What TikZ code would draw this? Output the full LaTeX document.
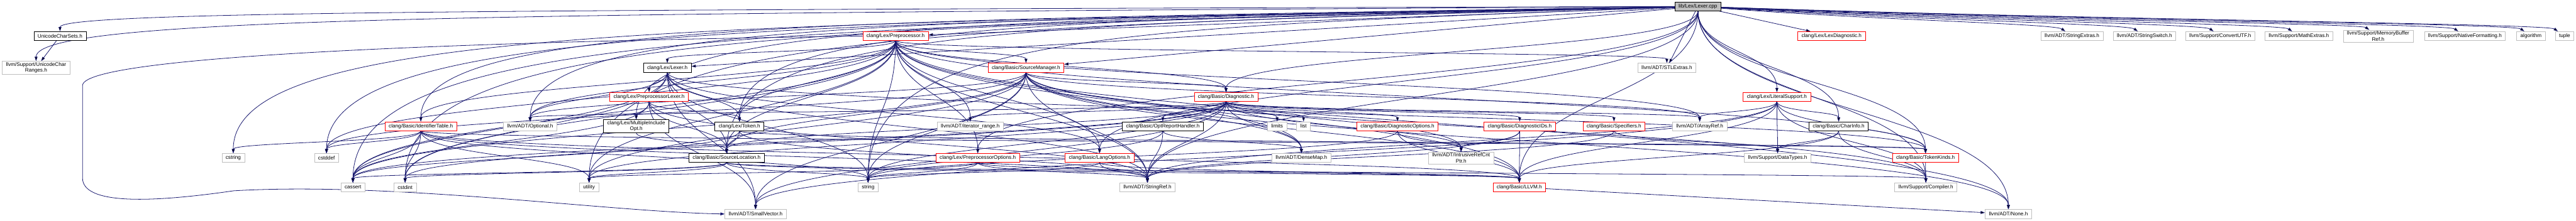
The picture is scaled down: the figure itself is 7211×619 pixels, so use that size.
\documentclass[tikz,border=0pt]{standalone}
\usepackage{fontspec}
\setmainfont{Liberation Sans}
\usetikzlibrary{arrows.meta,calc}
\definecolor{dxedge}{HTML}{191970}
\definecolor{dxgray}{HTML}{BFBFBF}
\definecolor{dxred}{HTML}{FF0000}
\newcommand{\dxfont}{\fontsize{7.2}{8.4}\selectfont}
\pgfdeclarelayer{edgelayer}
\pgfdeclarelayer{paper}
\pgfsetlayers{paper,edgelayer,main}

\begin{document}
\begin{tikzpicture}[x=0.5pt, y=0.5pt, every node/.style={font=\dxfont},
  hdr/.style={rectangle, draw, fill=white, line width=0.6pt, minimum height=12.5pt,
    inner xsep=5.3pt, inner ysep=1.5pt, align=center},
  sysfile/.style={hdr, draw=dxgray},
  cutfile/.style={hdr, draw=dxred},
  docfile/.style={hdr, draw=black},
  rootfile/.style={hdr, draw=black, fill=dxgray},
  dep/.style={draw=dxedge, line width=0.7pt, -{Triangle[length=6pt,width=4pt]}},
  fall/.style={to path={.. controls ($(\tikztostart)!0.5!(\tikztostart |- \tikztotarget)$)
    and ($(\tikztotarget)!0.5!(\tikztotarget |- \tikztostart)$) .. (\tikztotarget) \tikztonodes}},
  sweep/.style={to path={.. controls ($(\tikztostart)!0.7!(\tikztotarget |- \tikztostart)
      + 0.12*(\tikztotarget) - 0.12*(\tikztotarget |- \tikztostart)$)
    and ($(\tikztotarget)!0.85!(\tikztotarget |- \tikztostart)$) .. (\tikztotarget) \tikztonodes}},
  glide/.style={to path={.. controls ($(\tikztostart)!0.45!(\tikztotarget)$)
    and ($(\tikztotarget)+(-50,35)$) .. (\tikztotarget) \tikztonodes}}]

  % ---- Background ----
  \begin{pgfonlayer}{paper}
    \fill[white] (0,0) rectangle (7211,619);
  \end{pgfonlayer}
  \useasboundingbox (0,0) rectangle (7211,619);

  % ============ FILES (one row per level) ============

  % ---- Root ----
  \node[rootfile] (lexcpp) at (4753,601) {lib/Lex/Lexer.cpp};

  % ---- Level 1 ----
  \node[docfile] (unisets)   at (168,518)  {UnicodeCharSets.h};
  \node[cutfile] (pp)        at (2507,518) {clang/Lex/Preprocessor.h};
  \node[cutfile] (lexdiag)   at (5127,518) {clang/Lex/LexDiagnostic.h};
  \node[sysfile] (strext)    at (5800,518) {llvm/ADT/StringExtras.h};
  \node[sysfile] (strswitch) at (6003,518) {llvm/ADT/StringSwitch.h};
  \node[sysfile] (convutf)   at (6215,518) {llvm/Support/ConvertUTF.h};
  \node[sysfile] (mathext)   at (6435,518) {llvm/Support/MathExtras.h};
  \node[sysfile] (membuf)    at (6657,518) {llvm/Support/MemoryBuffer\\Ref.h};
  \node[sysfile] (natfmt)    at (6900,518) {llvm/Support/NativeFormatting.h};
  \node[sysfile] (algorithm) at (7085,518) {algorithm};
  \node[sysfile] (tuple)     at (7179,518) {tuple};

  % ---- Level 2 ----
  \node[sysfile] (uniranges) at (101,429)  {llvm/Support/UnicodeChar\\Ranges.h};
  \node[docfile] (lexh)      at (1868,429) {clang/Lex/Lexer.h};
  \node[cutfile] (srcmgr)    at (2872,429) {clang/Basic/SourceManager.h};
  \node[sysfile] (stlextras) at (4666,429) {llvm/ADT/STLExtras.h};

  % ---- Level 3 ----
  \node[cutfile] (pplexer)   at (1817,347) {clang/Lex/PreprocessorLexer.h};
  \node[cutfile] (diag)      at (3432,347) {clang/Basic/Diagnostic.h};
  \node[cutfile] (litsupp)   at (4974,347) {clang/Lex/LiteralSupport.h};

  % ---- Level 4 ----
  \node[cutfile] (idtable)    at (1178,265) {clang/Basic/IdentifierTable.h};
  \node[sysfile] (optional)   at (1484,265) {llvm/ADT/Optional.h};
  \node[docfile] (mio)        at (1781,265) {clang/Lex/MultipleInclude\\Opt.h};
  \node[docfile] (token)      at (2070,265) {clang/Lex/Token.h};
  \node[sysfile] (itrange)    at (2716,265) {llvm/ADT/iterator\_range.h};
  \node[docfile] (optrep)     at (3255,265) {clang/Basic/OptReportHandler.h};
  \node[sysfile] (limits)     at (3575,265) {limits};
  \node[sysfile] (list)       at (3649,265) {list};
  \node[cutfile] (diagopts)   at (3912,265) {clang/Basic/DiagnosticOptions.h};
  \node[cutfile] (diagids)    at (4254,265) {clang/Basic/DiagnosticIDs.h};
  \node[cutfile] (specifiers) at (4518,265) {clang/Basic/Specifiers.h};
  \node[sysfile] (arrayref)   at (4758,265) {llvm/ADT/ArrayRef.h};
  \node[docfile] (charinfo)   at (5147,265) {clang/Basic/CharInfo.h};

  % ---- Level 5 ----
  \node[sysfile] (cstring)   at (653,176)  {cstring};
  \node[sysfile] (cstddef)   at (914,176)  {cstddef};
  \node[docfile] (srcloc)    at (2034,176) {clang/Basic/SourceLocation.h};
  \node[cutfile] (ppopts)    at (2737,176) {clang/Lex/PreprocessorOptions.h};
  \node[cutfile] (langopts)  at (3078,176) {clang/Basic/LangOptions.h};
  \node[sysfile] (densemap)  at (3643,176) {llvm/ADT/DenseMap.h};
  \node[sysfile] (irc)       at (4090,176) {llvm/ADT/IntrusiveRefCnt\\Ptr.h};
  \node[sysfile] (datatypes) at (4976,176) {llvm/Support/DataTypes.h};
  \node[cutfile] (tokkinds)  at (5390,176) {clang/Basic/TokenKinds.h};

  % ---- Level 6 ----
  \node[sysfile] (cassert)  at (988,94)  {cassert};
  \node[sysfile] (cstdint)  at (1134,94) {cstdint};
  \node[sysfile] (utility)  at (1649,94) {utility};
  \node[sysfile] (string)   at (2430,94) {string};
  \node[sysfile] (strref)   at (3212,94) {llvm/ADT/StringRef.h};
  \node[cutfile] (llvmh)    at (4253,94) {clang/Basic/LLVM.h};
  \node[sysfile] (compiler) at (5391,94) {llvm/Support/Compiler.h};

  % ---- Level 7 ----
  \node[sysfile] (smallvec) at (2115,19) {llvm/ADT/SmallVector.h};
  \node[sysfile] (none)     at (5622,19) {llvm/ADT/None.h};

  % ============ INCLUDE EDGES ============
  \begin{pgfonlayer}{edgelayer}

  % Lexer.cpp: direct includes
  \path[dep] (lexcpp) edge (lexh) edge (pp) edge (srcmgr) edge (stlextras) edge (lexdiag);
  \path[dep] (lexcpp) edge[fall] (diag) edge[fall] (langopts) edge[fall] (ppopts)
    edge[fall] (strref) edge[fall] (llvmh) edge[fall] (charinfo) edge[fall] (tokkinds)
    edge[fall] (compiler) edge[fall] (none) edge[fall] (litsupp);
  \path[dep] (lexcpp) edge[sweep] (unisets) edge[sweep] (uniranges) edge[sweep] (idtable)
    edge[sweep] (mio) edge[sweep] (token) edge[sweep] (optional) edge[sweep] (srcloc)
    edge[sweep] (cassert) edge[sweep] (cstddef) edge[sweep] (cstdint) edge[sweep] (cstring)
    edge[sweep] (string) edge[sweep] (utility);
  \path[dep] (lexcpp) edge[glide] (strext) edge[glide] (strswitch) edge[glide] (convutf)
    edge[glide] (mathext) edge[glide] (membuf) edge[glide] (natfmt)
    edge[glide] (algorithm) edge[glide] (tuple);

  % UnicodeCharSets.h
  \path[dep] (unisets) edge (uniranges);

  % Lexer.h and its lexer headers
  \path[dep] (lexh) edge[fall] (pplexer) edge[fall] (token) edge[fall] (srcloc)
    edge[fall] (optional) edge[fall] (smallvec) edge[fall] (strref) edge[fall] (cassert)
    edge[fall] (cstdint) edge[fall] (string) edge[fall] (langopts) edge[fall] (tokkinds);
  \path[dep] (pplexer) edge[fall] (mio) edge[fall] (token) edge[fall] (srcloc)
    edge[fall] (smallvec) edge[fall] (strref) edge[fall] (cassert);
  \path[dep] (mio) edge[fall] (srcloc);
  \path[dep] (token) edge[fall] (srcloc) edge[fall] (tokkinds) edge[fall] (strref)
    edge[fall] (cassert);
  \path[dep] (srcloc) edge[fall] (llvmh) edge[fall] (compiler) edge[fall] (cassert)
    edge[fall] (cstdint) edge[fall] (string) edge[fall] (utility);
  \path[dep] (idtable) edge[fall] (cstring) edge[fall] (cstddef) edge[fall] (cassert)
    edge[fall] (cstdint) edge[fall] (utility) edge[fall] (string) edge[fall] (strref)
    edge[fall] (llvmh) edge[fall] (tokkinds);

  % Preprocessor.h
  \path[dep] (pp) edge[fall] (srcmgr) edge[fall] (diag) edge[fall] (idtable)
    edge[fall] (lexh) edge[fall] (token) edge[fall] (srcloc) edge[fall] (langopts)
    edge[fall] (ppopts) edge[fall] (itrange) edge[fall] (optional) edge[fall] (arrayref)
    edge[fall] (densemap) edge[fall] (stlextras) edge[fall] (strref) edge[fall] (llvmh)
    edge[fall] (tokkinds) edge[fall] (none) edge[fall] (cassert) edge[fall] (cstddef)
    edge[fall] (cstdint) edge[fall] (string) edge[fall] (utility);
  \draw[dep] (pp.west) .. controls (1500,505) and (240,470) .. (231,380)
    -- (231,120) .. controls (231,45) and (420,50) .. (654,84)
    .. controls (1100,110) and (1700,25) .. (smallvec.west);

  % SourceManager.h and Diagnostic.h
  \path[dep] (srcmgr) edge[fall] (diag) edge[fall] (srcloc) edge[fall] (llvmh)
    edge[fall] (strref) edge[fall] (arrayref) edge[fall] (densemap) edge[fall] (irc)
    edge[fall] (none) edge[fall] (optional) edge[fall] (smallvec) edge[fall] (compiler)
    edge[fall] (cassert) edge[fall] (cstddef) edge[fall] (string) edge[fall] (utility);
  \path[dep] (diag) edge[fall] (diagids) edge[fall] (diagopts) edge[fall] (srcloc)
    edge[fall] (specifiers) edge[fall] (arrayref) edge[fall] (densemap) edge[fall] (irc)
    edge[fall] (optional) edge[fall] (itrange) edge[fall] (strref) edge[fall] (optrep)
    edge[fall] (limits) edge[fall] (list) edge[fall] (smallvec) edge[fall] (cassert)
    edge[fall] (cstdint) edge[fall] (string) edge[fall] (utility);
  \path[dep] (optrep) edge[fall] (strref) edge[fall] (densemap) edge[fall] (string);
  \path[dep] (diagopts) edge[fall] (llvmh) edge[fall] (irc) edge[fall] (string);
  \path[dep] (diagids) edge[fall] (llvmh) edge[fall] (irc) edge[fall] (strref);
  \path[dep] (specifiers) edge[fall] (strref) edge[fall] (datatypes);

  % Options headers
  \path[dep] (langopts) edge[fall] (llvmh) edge[fall] (strref) edge[fall] (string);
  \path[dep] (ppopts) edge[fall] (llvmh) edge[fall] (strref) edge[fall] (string)
    edge[fall] (utility);

  % LLVM.h, literals and characters
  \path[dep] (llvmh) edge (none);
  \path[dep] (litsupp) edge[fall] (charinfo) edge[fall] (arrayref) edge[fall] (datatypes)
    edge[fall] (tokkinds) edge[fall] (llvmh) edge[fall] (strref) edge[fall] (smallvec)
    edge[fall] (compiler);
  \path[dep] (charinfo) edge[fall] (llvmh) edge[fall] (datatypes) edge[fall] (compiler);
  \path[dep] (tokkinds) edge[fall] (compiler);

  \end{pgfonlayer}

\end{tikzpicture}
\end{document}
